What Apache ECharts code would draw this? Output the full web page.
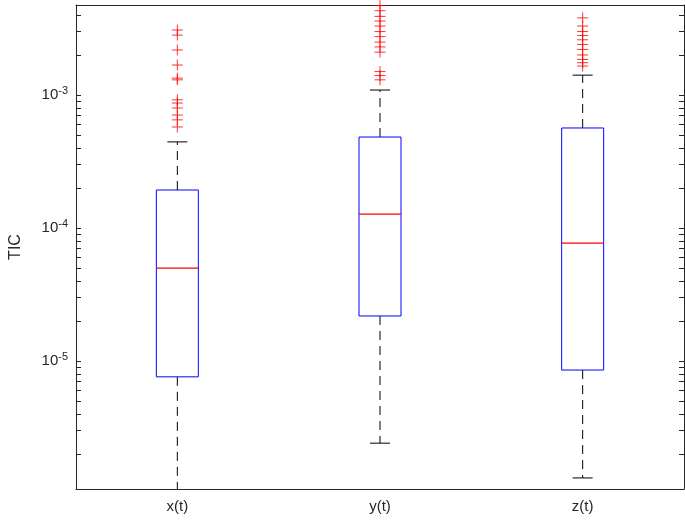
<!DOCTYPE html>
<html><head><meta charset="utf-8">
<script src="https://cdn.jsdelivr.net/npm/echarts@6/dist/echarts.min.js"></script>
<style>html,body{margin:0;padding:0;background:#fff}#c{width:685px;height:520px}</style>
</head><body><div id="c"></div>
<script>
const categories = ['x(t)', 'y(t)', 'z(t)'];
// [lowerWhisker, q1, median, q3, upperWhisker]
const boxStats = [
  [1.0e-6, 7.6e-6, 5.0e-5, 1.93e-4, 4.44e-4],
  [2.41e-6, 2.18e-5, 1.27e-4, 4.83e-4, 1.09e-3],
  [1.32e-6, 8.55e-6, 7.7e-5, 5.65e-4, 1.41e-3]
];
const outliersX = [3.08e-3, 2.82e-3, 2.18e-3, 1.68e-3, 1.34e-3, 1.30e-3, 9.2e-4, 8.7e-4, 7.98e-4, 7.07e-4, 6.5e-4, 5.75e-4];
const outliersY = [4.7e-3, 4.3e-3, 3.9e-3, 3.6e-3, 3.3e-3, 3.0e-3, 2.75e-3, 2.5e-3, 2.3e-3, 2.1e-3, 1.5e-3, 1.4e-3, 1.3e-3];
const outliersZ = [3.8e-3, 3.3e-3, 3.0e-3, 2.8e-3, 2.6e-3, 2.4e-3, 2.2e-3, 2.0e-3, 1.85e-3, 1.75e-3, 1.65e-3];
const yMin = 1.09e-6, yMax = 4.75e-3;
const majorTicks = [1e-5, 1e-4, 1e-3];

const L = Math.log10;
const minor = [];
for (let e = -7; e <= -2; e++) for (let k = 1; k <= 9; k++) { const v = k * Math.pow(10, e); if (v >= yMin && v <= yMax) minor.push(L(v)); }
const outl = [];
[outliersX, outliersY, outliersZ].forEach((a, i) => a.forEach(v => outl.push([i, L(v)])));

const yAxisBase = {
  type: 'value', min: L(yMin), max: L(yMax),
  splitLine: { show: false },
  axisLine: { show: true, lineStyle: { color: '#262626' } },
  axisTick: { show: true, inside: true, length: 5, customValues: minor, lineStyle: { color: '#262626' } }
};
const chart = echarts.init(document.getElementById('c'));
chart.setOption({
  animation: false,
  grid: { left: 70, right: 1, top: 5, bottom: 31 },
  xAxis: [{
    type: 'category', data: categories, boundaryGap: true,
    axisLine: { lineStyle: { color: '#262626' } },
    axisTick: { inside: true, alignWithLabel: true, length: 5, lineStyle: { color: '#262626' } },
    axisLabel: { color: '#262626', fontSize: 15, fontFamily: 'Liberation Sans', margin: 10 }
  }, {
    type: 'category', data: categories, position: 'top',
    axisLine: { show: true, lineStyle: { color: '#262626' } },
    axisTick: { show: false }, axisLabel: { show: false }
  }],
  yAxis: [Object.assign({}, yAxisBase, {
    name: 'TIC', nameLocation: 'middle', nameGap: 52,
    nameTextStyle: { color: '#262626', fontSize: 16, fontFamily: 'Liberation Sans' },
    axisLabel: {
      customValues: majorTicks.map(L), color: '#262626', fontSize: 15, fontFamily: 'Liberation Sans',
      formatter: v => '10{s|' + Math.round(v) + '}',
      rich: { s: { fontSize: 11, color: '#262626', fontFamily: 'Liberation Sans', verticalAlign: 'top', padding: [0, 0, 8, 0] } }
    }
  }), Object.assign({}, yAxisBase, { position: 'right', axisLabel: { show: false } })],
  series: [{
    type: 'custom',
    data: boxStats.map((s, i) => [i].concat(s.map(L))),
    renderItem: (params, api) => {
      const i = api.value(0);
      const p = k => api.coord([i, api.value(k)]);
      const lw = p(1), q1 = p(2), md = p(3), q3 = p(4), hw = p(5);
      const cx = q1[0], bw = 21, cw = 10;
      const bottom = params.coordSys.y + params.coordSys.height;
      const lwy = Math.min(lw[1], bottom);
      const ch = [
        { type: 'line', shape: { x1: cx, y1: q3[1], x2: cx, y2: hw[1] }, style: { stroke: '#000', fill: null, lineDash: [9, 6], lineWidth: 1 } },
        { type: 'line', shape: { x1: cx, y1: q1[1], x2: cx, y2: lwy }, style: { stroke: '#000', fill: null, lineDash: [9, 6], lineWidth: 1 } },
        { type: 'line', shape: { x1: cx - cw, y1: hw[1], x2: cx + cw, y2: hw[1] }, style: { stroke: '#000', fill: null, lineWidth: 1 } },
        { type: 'polygon', shape: { points: [[cx - bw, q3[1]], [cx + bw, q3[1]], [cx + bw, q1[1]], [cx - bw, q1[1]]] }, style: { fill: null, stroke: '#0000ff', lineWidth: 1 } },
        { type: 'line', shape: { x1: cx - bw, y1: md[1], x2: cx + bw, y2: md[1] }, style: { stroke: '#ff0000', fill: null, lineWidth: 1.3 } }
      ];
      if (lw[1] < bottom) ch.push({ type: 'line', shape: { x1: cx - cw, y1: lw[1], x2: cx + cw, y2: lw[1] }, style: { stroke: '#000', fill: null, lineWidth: 1 } });
      return { type: 'group', children: ch };
    }
  }, {
    type: 'scatter', data: outl, symbol: 'path://M5,0L5,10M0,5L10,5', symbolSize: 11,
    itemStyle: { color: 'none', borderColor: '#ff0000', borderWidth: 1 }, clip: true
  }]
});
</script></body></html>
